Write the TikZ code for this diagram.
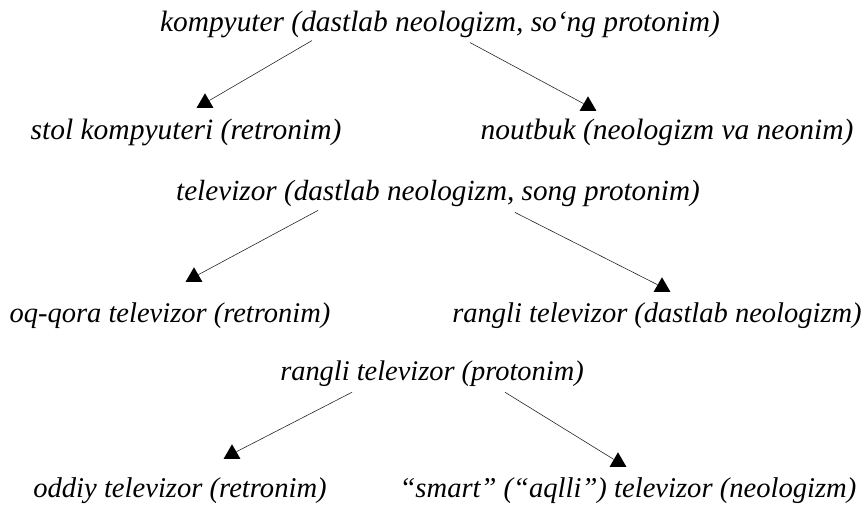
\documentclass[tikz,border=0pt]{standalone}
\usepackage{fontspec}
\setmainfont{Liberation Serif}
\usetikzlibrary{shapes.geometric}
\usetikzlibrary{positioning}

\newcommand{\fs}[1]{\fontsize{#1}{#1}\selectfont\itshape}

\begin{document}
\begin{tikzpicture}[x=1pt, y=-1pt, term/.style={inner sep=0pt, anchor=base}]
	\tikzstyle{tip} = [regular polygon, regular polygon sides=3, fill=black, inner sep=0pt, minimum size=19.5pt];
	\tikzstyle{link} = [draw=black!85, line width=0.6pt];
	\useasboundingbox (0,0) rectangle (868,504);

	\node [term, font=\fs{29.4}] (komp)   at (440,31)  {kompyuter (dastlab neologizm, so‘ng protonim)};
	\node [term, font=\fs{29.5}] (stol)   at (186,139) {stol kompyuteri (retronim)};
	\node [term, font=\fs{29.5}] (nout)   at (667,139) {noutbuk (neologizm va neonim)};
	\node [term, font=\fs{29.2}] (tele)   at (438,200) {televizor (dastlab neologizm, song protonim)};
	\node [term, font=\fs{28.5}] (oqqora) at (170,322) {oq-qora televizor (retronim)};
	\node [term, font=\fs{28.5}] (rangli) at (657,322) {rangli televizor (dastlab neologizm)};
	\node [term, font=\fs{28.4}] (rproto) at (432,380) {rangli televizor (protonim)};
	\node [term, font=\fs{28.6}] (oddiy)  at (180,497) {oddiy televizor (retronim)};
	\node [term, font=\fs{28.6}] (smart)  at (628,497) {“smart” (“aqlli”) televizor (neologizm)};

	\node [tip] (t_stol)   at (205,103) {};
	\node [tip] (t_nout)   at (588,106) {};
	\node [tip] (t_oqqora) at (194,277) {};
	\node [tip] (t_rangli) at (662,287) {};
	\node [tip] (t_oddiy)  at (232,454) {};
	\node [tip] (t_smart)  at (618,462) {};

	\path [link] ([xshift=-128pt,yshift=-3pt]komp.south)  edge (t_stol)
	             ([xshift=30pt,yshift=-5pt]komp.south)    edge (t_nout)
	             ([xshift=-120pt,yshift=-4pt]tele.south)  edge (t_oqqora)
	             ([xshift=77pt,yshift=-6pt]tele.south)    edge (t_rangli)
	             ([xshift=-80pt,yshift=-6pt]rproto.south) edge (t_oddiy)
	             ([xshift=73pt,yshift=-6pt]rproto.south)  edge (t_smart);
\end{tikzpicture}
\end{document}
